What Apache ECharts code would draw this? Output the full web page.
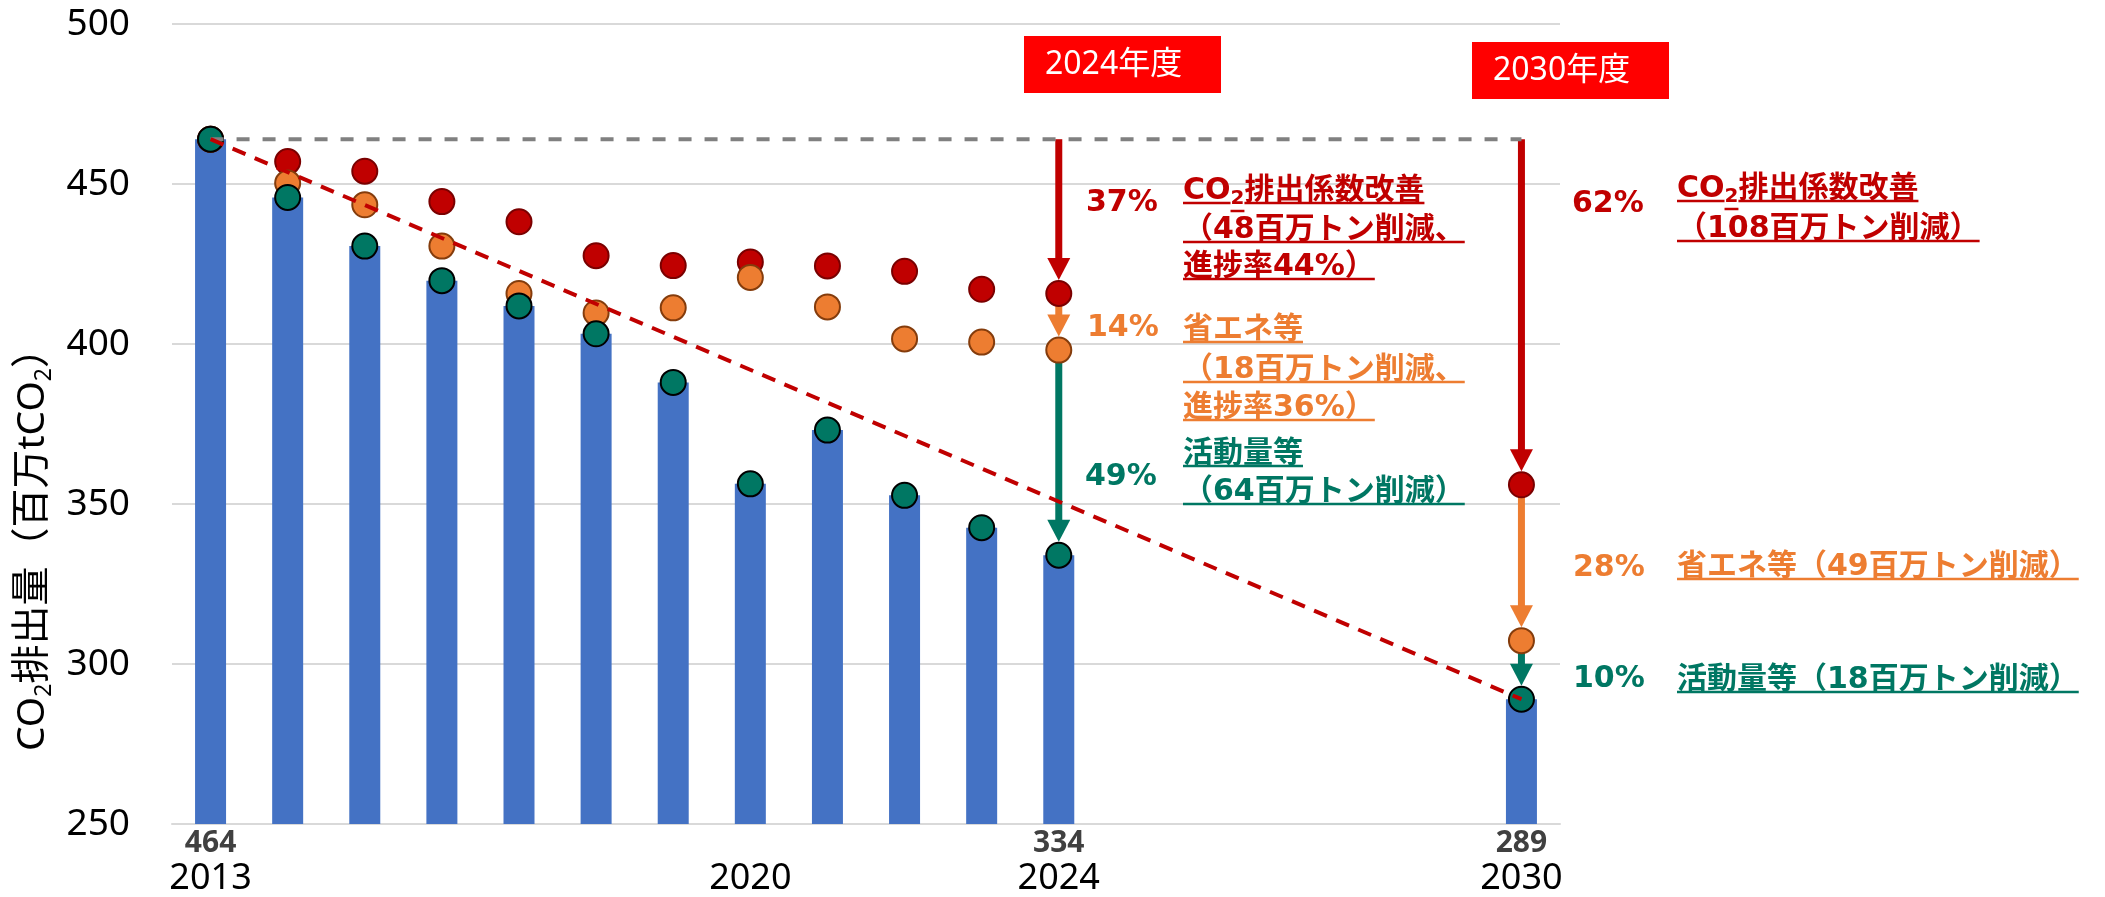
<!DOCTYPE html>
<html>
<head>
<meta charset="utf-8">
<script src="https://cdn.jsdelivr.net/npm/echarts@6/dist/echarts.min.js"></script>
<style>
  html, body { margin: 0; padding: 0; background: #fff; }
  #chart { width: 2105px; height: 897px; }
</style>
</head>
<body>
<div id="chart"></div>
<script>
// 年度（カテゴリ）
var years = ['2013', '2014', '2015', '2016', '2017', '2018', '2019', '2020', '2021', '2022', '2023', '2024',
             '2025', '2026', '2027', '2028', '2029', '2030'];
// 実績・目標排出量（百万tCO2）
var emissions = [464, 445.8, 430.6, 419.8, 411.9, 403.2, 388.0, 356.3, 373.1, 352.7, 342.6, 334,
                 null, null, null, null, null, 289];
// 排出係数改善がなかった場合
var withoutFactor = [464, 457.0, 454.0, 444.5, 438.2, 427.6, 424.5, 425.6, 424.4, 422.7, 417.1, 415.8,
                     null, null, null, null, null, 356.0];
// さらに省エネがなかった場合
var withoutSaving = [464, 450.3, 443.5, 430.6, 415.8, 409.7, 411.3, 420.8, 411.6, 401.6, 400.6, 398.1,
                     null, null, null, null, null, 307.3];
var yearTickLabels = ['2013', '2020', '2024', '2030'];
var valueTickLabels = ['2013', '2024', '2030'];
var arrowYears = ['2024', '2030'];
var yTicks = [250, 300, 350, 400, 450, 500];

var RED = '#C00000', ORANGE = '#ED7D31', GREEN = '#007763', BLUE = '#4472C4';
var arrowColors = [RED, ORANGE, GREEN];

var chart = echarts.init(document.getElementById('chart'), null, { width: 2105, height: 897 });

// 基準年の水平線と目標へのトレンド線
var base = emissions[0];
var last = years.length - 1;
var baseLine = years.map(function (y, i) { return (i === 0 || i === last) ? base : null; });
var trendLine = years.map(function (y, i) { return i === 0 ? base : (i === last ? emissions[last] : null); });

function toPoints(arr) {
  var out = [];
  arr.forEach(function (v, i) { if (v != null) out.push([i, v]); });
  return out;
}

// 要因分解の矢印
var arrowData = [];
arrowYears.forEach(function (y) {
  var i = years.indexOf(y);
  arrowData.push([i, base, withoutFactor[i], 0]);
  arrowData.push([i, withoutFactor[i], withoutSaving[i], 1]);
  arrowData.push([i, withoutSaving[i], emissions[i], 2]);
});

var DOT = 25;
function renderArrow(params, api) {
  var p0 = api.coord([api.value(0), api.value(1)]);
  var p1 = api.coord([api.value(0), api.value(2)]);
  var color = arrowColors[api.value(3)];
  var tipY = p1[1] - DOT / 2 - 1;
  var headH = 22, headW = 23;
  return {
    type: 'group',
    children: [
      { type: 'line', shape: { x1: p0[0], y1: p0[1], x2: p0[0], y2: tipY - headH + 2 },
        style: { stroke: color, lineWidth: 7 } },
      { type: 'polygon', shape: { points: [[p0[0] - headW / 2, tipY - headH], [p0[0] + headW / 2, tipY - headH], [p0[0], tipY]] },
        style: { fill: color } }
    ]
  };
}

// 注記テキスト
var NOTE_FONT = '"DejaVu Sans", "Noto Sans CJK JP"';
var mctx = document.createElement('canvas').getContext('2d');
function measure(s, size) {
  mctx.font = 'bold ' + size + 'px ' + NOTE_FONT;
  return mctx.measureText(s).width;
}

var graphics = [];

function yearBox(x, y, text) {
  graphics.push({ type: 'rect', shape: { x: x, y: y, width: 197, height: 57 }, style: { fill: '#FF0000' }, z: 10 });
  graphics.push({ type: 'text', x: x + 21, y: y + 29, z: 11,
    style: { text: text, fill: '#fff', fontSize: 32, fontFamily: '"Noto Sans", "Noto Sans CJK JP"', verticalAlign: 'middle' } });
}

function pct(x, y, text, color) {
  graphics.push({ type: 'text', x: x, y: y, z: 11,
    style: { text: text, fill: color, fontSize: 30, fontWeight: 'bold', fontFamily: NOTE_FONT, verticalAlign: 'middle' } });
}

// line: string, or ['CO', '2', '排出係数改善'] with subscript in the middle
function noteLine(x, y, line, color) {
  var rich = {
    m: { fill: color, fontSize: 30, fontWeight: 'bold', fontFamily: NOTE_FONT, lineHeight: 36 },
    s: { fill: color, fontSize: 20, fontWeight: 'bold', fontFamily: NOTE_FONT, lineHeight: 20, verticalAlign: 'bottom' }
  };
  var uy = y + 12;
  if (typeof line === 'string') {
    graphics.push({ type: 'text', x: x, y: y, z: 11, style: { text: '{m|' + line + '}', rich: rich, verticalAlign: 'middle' } });
    graphics.push({ type: 'line', z: 11, shape: { x1: x, y1: uy, x2: x + measure(line, 30), y2: uy }, style: { stroke: color, lineWidth: 2.5 } });
  } else {
    graphics.push({ type: 'text', x: x, y: y, z: 11,
      style: { text: '{m|' + line[0] + '}{s|' + line[1] + '}{m|' + line[2] + '}', rich: rich, verticalAlign: 'middle' } });
    var w0 = measure(line[0], 30), w1 = measure(line[1], 20), w2 = measure(line[2], 30);
    graphics.push({ type: 'line', z: 11, shape: { x1: x, y1: uy, x2: x + w0, y2: uy }, style: { stroke: color, lineWidth: 2.5 } });
    graphics.push({ type: 'line', z: 11, shape: { x1: x + w0, y1: uy + 8, x2: x + w0 + w1, y2: uy + 8 }, style: { stroke: color, lineWidth: 2.5 } });
    graphics.push({ type: 'line', z: 11, shape: { x1: x + w0 + w1, y1: uy, x2: x + w0 + w1 + w2, y2: uy }, style: { stroke: color, lineWidth: 2.5 } });
  }
}

yearBox(1024, 36, '2024年度');
yearBox(1472, 42, '2030年度');

pct(1086, 203, '37%', RED);
noteLine(1183, 191, ['CO', '2', '排出係数改善'], RED);
noteLine(1183, 230, '（48百万トン削減、', RED);
noteLine(1183, 267, '進捗率44%）', RED);

pct(1087, 328, '14%', ORANGE);
noteLine(1183, 330, '省エネ等', ORANGE);
noteLine(1183, 370, '（18百万トン削減、', ORANGE);
noteLine(1183, 408, '進捗率36%）', ORANGE);

pct(1085, 477, '49%', GREEN);
noteLine(1183, 454, '活動量等', GREEN);
noteLine(1183, 492, '（64百万トン削減）', GREEN);

pct(1572, 204, '62%', RED);
noteLine(1677, 189, ['CO', '2', '排出係数改善'], RED);
noteLine(1677, 229, '（108百万トン削減）', RED);

pct(1573, 568, '28%', ORANGE);
noteLine(1677, 567, '省エネ等（49百万トン削減）', ORANGE);

pct(1573, 679, '10%', GREEN);
noteLine(1677, 680, '活動量等（18百万トン削減）', GREEN);

// 縦軸タイトル
graphics.push({
  type: 'text', x: 33, y: 540, rotation: Math.PI / 2, z: 11,
  style: {
    text: '{m|CO}{s|2}{m|排出量（百万tCO}{s|2}{m|）}',
    align: 'center', verticalAlign: 'middle',
    rich: {
      m: { fill: '#000', fontSize: 39, fontFamily: '"Noto Sans", "Noto Sans CJK JP"', lineHeight: 46 },
      s: { fill: '#000', fontSize: 23, fontFamily: '"Noto Sans", "Noto Sans CJK JP"', lineHeight: 23, verticalAlign: 'bottom' }
    }
  }
});

var option = {
  animation: false,
  backgroundColor: '#fff',
  grid: { left: 172, right: 545, top: 24, bottom: 73, containLabel: false, outerBoundsMode: 'none' },
  xAxis: {
    type: 'category',
    data: years,
    axisLine: { lineStyle: { color: '#D9D9D9', width: 2 } },
    axisTick: { show: false },
    axisLabel: {
      interval: 0,
      margin: 2,
      formatter: function (val, idx) {
        if (yearTickLabels.indexOf(val) < 0) return '';
        var v = valueTickLabels.indexOf(val) >= 0 ? String(Math.round(emissions[idx])) : ' ';
        return '{v|' + v + '}\n{y|' + val + '}';
      },
      rich: {
        v: { fontSize: 30, fontWeight: 'bold', color: '#404040', fontFamily: '"Noto Sans"', lineHeight: 34 },
        y: { fontSize: 36, color: '#000', fontFamily: '"Noto Sans"', lineHeight: 38 }
      }
    }
  },
  yAxis: {
    type: 'value',
    min: yTicks[0],
    max: yTicks[yTicks.length - 1],
    interval: 50,
    axisLine: { show: false },
    axisTick: { show: false },
    splitLine: { lineStyle: { color: '#D9D9D9', width: 2 } },
    axisLabel: { fontSize: 37, color: '#000', fontFamily: '"Noto Sans"', margin: 42 }
  },
  graphic: graphics,
  series: [
    { type: 'bar', data: emissions, barWidth: 31, itemStyle: { color: BLUE } },
    { type: 'line', data: baseLine, connectNulls: true, symbol: 'none',
      lineStyle: { color: '#808080', width: 4, type: [13, 13] } },
    { type: 'line', data: trendLine, connectNulls: true, symbol: 'none',
      lineStyle: { color: RED, width: 4, type: [14, 10] } },
    { type: 'custom', data: arrowData, renderItem: renderArrow, encode: { x: 0, y: [1, 2] } },
    { type: 'scatter', data: toPoints(withoutFactor), symbolSize: DOT,
      itemStyle: { color: RED, borderColor: '#7A0000', borderWidth: 2, opacity: 1 } },
    { type: 'scatter', data: toPoints(withoutSaving), symbolSize: DOT,
      itemStyle: { color: ORANGE, borderColor: '#843C0C', borderWidth: 2, opacity: 1 } },
    { type: 'scatter', data: toPoints(emissions), symbolSize: DOT,
      itemStyle: { color: GREEN, borderColor: '#000', borderWidth: 2, opacity: 1 } }
  ]
};

chart.setOption(option);
</script>
</body>
</html>
